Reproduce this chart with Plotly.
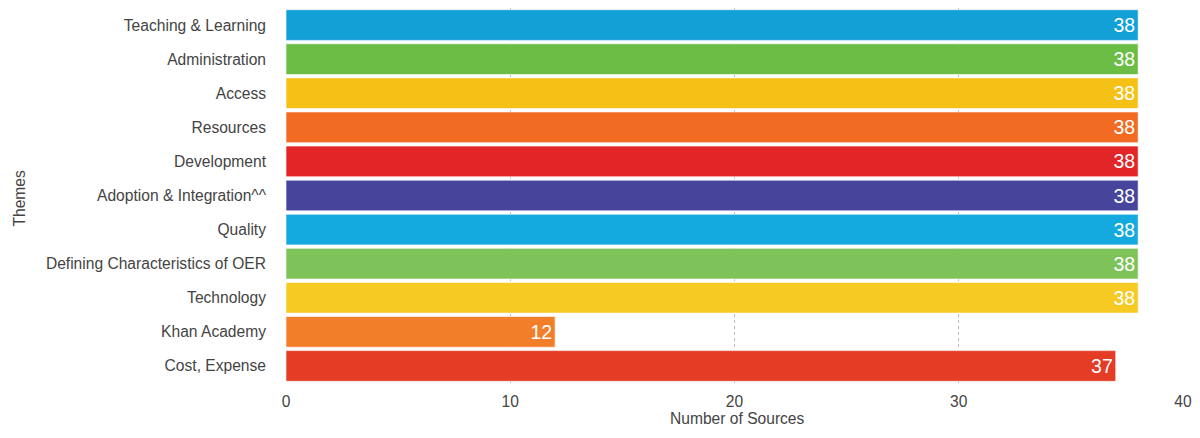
import plotly.graph_objects as go

# Data
themes = [
    'Teaching & Learning', 'Administration', 'Access', 'Resources',
    'Development', 'Adoption & Integration^^', 'Quality',
    'Defining Characteristics of OER', 'Technology', 'Khan Academy',
    'Cost, Expense',
]
sources = [38, 38, 38, 38, 38, 38, 38, 38, 38, 12, 37]
bar_colors = [
    '#12a0d7', '#6bbd45', '#f5c116', '#f16b22', '#e22527', '#47449b',
    '#14a9df', '#7ec35a', '#f7c923', '#f37e2a', '#e43c25',
]
x_ticks = [0, 10, 20, 30, 40]

fig = go.Figure()
fig.add_bar(
    x=sources,
    y=themes,
    orientation='h',
    marker=dict(color=bar_colors, line=dict(color='rgba(255,255,255,0.6)', width=1)),
    text=sources,
    textposition='inside',
    insidetextanchor='end',
    textfont=dict(color='white', size=19.5, family='Liberation Sans, Arial'),
    hoverinfo='x+y',
)

# page body has an 8px margin; keep the figure inside the window (no scrollbars)
W, H = 1184, 422
L, R, T, B = 278, 9, 0, 47
fig.update_layout(
    width=W,
    height=H,
    margin=dict(l=L, r=R, t=T, b=B),
    plot_bgcolor='white',
    paper_bgcolor='white',
    bargap=0.1,
    showlegend=False,
    font=dict(family='Liberation Sans, Arial', color='#444', size=15.6),
)
fig.update_xaxes(
    range=[0, 40],
    tickvals=x_ticks,
    automargin=False,
    ticklabeloverflow='allow',
    showgrid=True,
    gridcolor='#bbb',
    griddash='dot',
    gridwidth=1,
    zeroline=False,
    ticks='',
    ticklabelstandoff=7,
    tickfont=dict(size=15.6, color='#444'),
)
fig.update_yaxes(
    categoryorder='array',
    categoryarray=themes[::-1],
    automargin=False,
    showgrid=False,
    ticks='',
    ticklabelstandoff=19,
    tickfont=dict(size=15.6, color='#444'),
)

# axis titles as annotations (standoff is ignored without automargin)
plot_w = W - L - R
plot_h = H - T - B
fig.add_annotation(
    text='Number of Sources', xref='paper', yref='paper',
    x=(729 - L) / plot_w, y=-(410 - plot_h) / plot_h,
    xanchor='center', yanchor='middle', showarrow=False,
    font=dict(size=15.6, color='#444'),
)
fig.add_annotation(
    text='Themes', xref='paper', yref='paper',
    x=-L / plot_w, y=1 - 190 / plot_h,
    xanchor='left', yanchor='middle', textangle=-90, showarrow=False,
    font=dict(size=15.6, color='#444'),
)

fig.write_html("out.html")
